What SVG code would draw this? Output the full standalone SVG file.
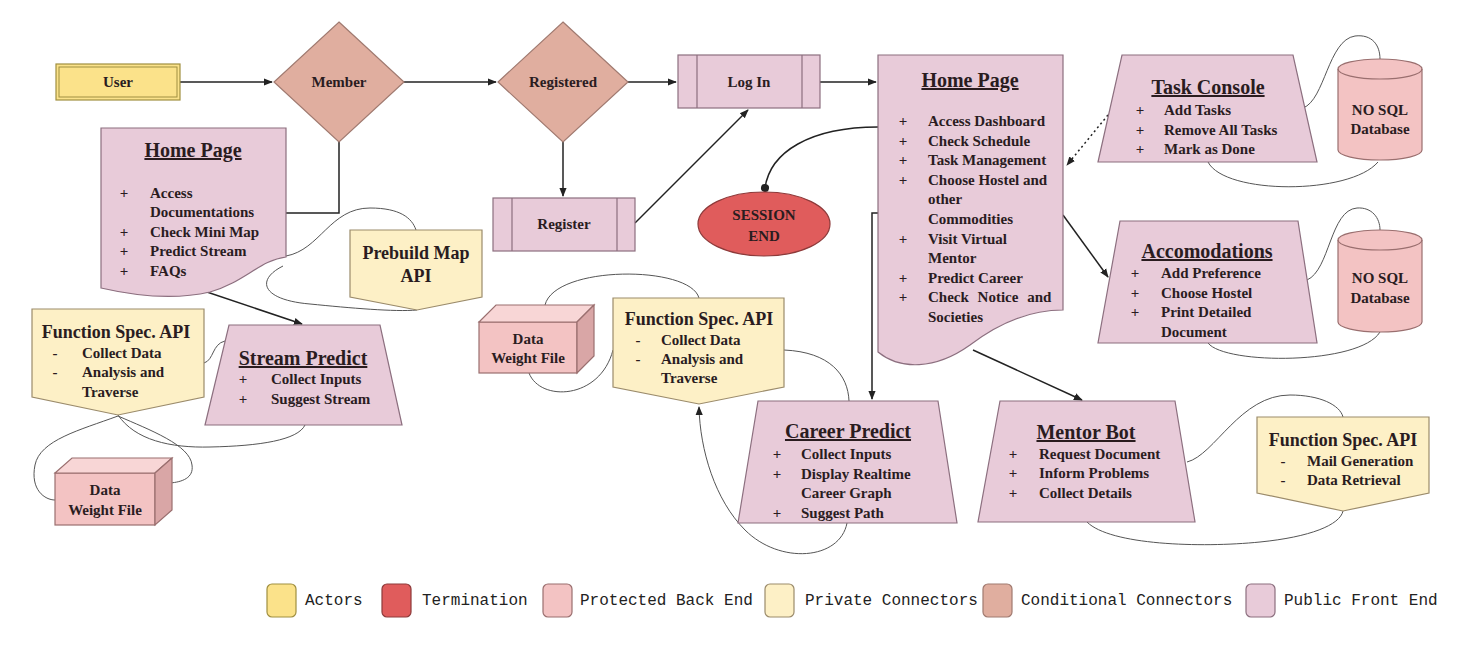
<svg xmlns="http://www.w3.org/2000/svg" width="1476" height="662" viewBox="0 0 1476 662">
<defs>
<style>
.t{font-family:"Liberation Serif","Times New Roman",serif;font-weight:bold;font-size:15px;fill:#2a1c1f}
.c{text-anchor:middle}
.ttl{font-size:20px;text-decoration:underline;text-anchor:middle}
.big{font-size:18px}
.lg{font-family:"Liberation Mono","Courier New",monospace;font-size:16px;fill:#222}
.pub{fill:#e8cbd9;stroke:#8c6f7f;stroke-width:1.2}
.pro{fill:#f3c3c3;stroke:#9a6f6f;stroke-width:1.2}
.prot{fill:#f8d6d6;stroke:#9a6f6f;stroke-width:1.2}
.pros{fill:#d9a6a6;stroke:#9a6f6f;stroke-width:1.2}
.pri{fill:#fdf0c6;stroke:#9b8b6b;stroke-width:1.2}
.cond{fill:#e0ae9f;stroke:#a07a70;stroke-width:1.2}
.act{fill:#fbe28a;stroke:#a08f40;stroke-width:1.2}
.term{fill:#e05c5c;stroke:#8d3a3a;stroke-width:1.2}
.conn{fill:none;stroke:#222;stroke-width:1.5}
.assoc{fill:none;stroke:#555;stroke-width:1}
</style>
<marker id="arr" viewBox="0 0 10 10" refX="9" refY="5" markerWidth="9" markerHeight="9" markerUnits="userSpaceOnUse" orient="auto"><path d="M0,1 L10,5 L0,9 Z" fill="#222"/></marker>
<marker id="dot" viewBox="0 0 10 10" refX="5" refY="5" markerWidth="9" markerHeight="9" markerUnits="userSpaceOnUse" orient="auto"><circle cx="5" cy="5" r="4.5" fill="#222"/></marker>
</defs>
<rect width="1476" height="662" fill="#ffffff"/>

<g id="connectors">
<path class="conn" d="M180,82 H272" marker-end="url(#arr)"/>
<path class="conn" d="M404,82 H496" marker-end="url(#arr)"/>
<path class="conn" d="M628,82 H676" marker-end="url(#arr)"/>
<path class="conn" d="M820,82 H876" marker-end="url(#arr)"/>
<path class="conn" d="M563,142 V196" marker-end="url(#arr)"/>
<path class="conn" d="M635,223 L748,110" marker-end="url(#arr)"/>
<path class="conn" d="M878,127 C810,127 770,152 765,188" marker-end="url(#dot)"/>
<path class="conn" d="M339,142 V213 H286" stroke-width="1" stroke="#555"/>
<path class="conn" d="M195,288 L302,324" stroke-width="2" marker-end="url(#arr)"/>
<path class="conn" d="M878,213 H872 V399" marker-end="url(#arr)"/>
<path class="conn" d="M973,350 L1082,400" marker-end="url(#arr)"/>
<path class="conn" d="M1063,215 L1108,277" marker-end="url(#arr)"/>
<path class="conn" d="M1108,115 L1067,165" stroke-dasharray="2,3" stroke-width="1.3" marker-end="url(#arr)"/>
<path class="assoc" d="M286,256 C320,250 330,208 370,208 C400,208 412,218 416,230"/>
<path class="assoc" d="M283,266 C255,280 262,300 310,304 C350,308 395,312 417,310"/>
<path class="assoc" d="M204,363 C214,360 212,344 225,341"/>
<path class="assoc" d="M118,415 C135,440 170,448 210,447 C260,446 298,440 305,425"/>
<path class="assoc" d="M118,416 C80,430 40,440 35,465 C30,490 45,500 55,500"/>
<path class="assoc" d="M118,416 C150,430 190,445 192,465 C194,478 182,482 170,483"/>
<path class="assoc" d="M545,305 C555,265 690,265 699,298"/>
<path class="assoc" d="M529,373 C540,402 600,400 613,350"/>
<path class="assoc" d="M784,350 C830,352 848,375 849,401"/>
<path class="assoc" d="M847,523 C840,560 780,565 745,530 C715,500 700,450 699,407" marker-end="url(#arr)"/>
<path class="assoc" d="M1187,462 C1215,455 1240,395 1290,395 C1320,395 1340,405 1343,417"/>
<path class="assoc" d="M1087,522 C1110,545 1200,548 1260,542 C1310,537 1340,525 1343,511"/>
<path class="assoc" d="M1303,108 C1325,100 1328,40 1355,36 C1372,34 1380,45 1380,59"/>
<path class="assoc" d="M1208,162 C1225,195 1350,195 1378,162"/>
<path class="assoc" d="M1307,280 C1330,270 1330,210 1357,208 C1372,207 1380,218 1380,230"/>
<path class="assoc" d="M1208,343 C1225,365 1360,365 1380,332"/>
</g>

<g id="user">
<rect class="act" x="56" y="64" width="124" height="36"/>
<rect x="59" y="67" width="118" height="30" fill="none" stroke="#a08f40" stroke-width="1"/>
<text class="t c" x="118" y="87">User</text>
</g>

<g id="member">
<path class="cond" d="M339,22 L404,82 L339,142 L274,82 Z"/>
<text class="t c" x="339" y="87">Member</text>
</g>

<g id="registered">
<path class="cond" d="M563,22 L628,82 L563,142 L498,82 Z"/>
<text class="t c" x="563" y="87">Registered</text>
</g>

<g id="login">
<rect class="pub" x="678" y="55" width="142" height="53"/>
<path d="M697,55 V108 M802,55 V108" stroke="#8c6f7f" stroke-width="1.2"/>
<text class="t c" x="749" y="87">Log In</text>
</g>

<g id="register">
<rect class="pub" x="493" y="198" width="142" height="53"/>
<path d="M512,198 V251 M617,198 V251" stroke="#8c6f7f" stroke-width="1.2"/>
<text class="t c" x="564" y="229">Register</text>
</g>

<g id="session-end">
<ellipse class="term" cx="764" cy="224" rx="66" ry="32"/>
<text class="t c" x="764" y="220">SESSION</text>
<text class="t c" x="764" y="241">END</text>
</g>

<g id="home-page-main">
<path class="pub" d="M878,55 H1063 V310 C1030,310 1000,322 970,345 C935,370 900,370 878,352 Z"/>
<text class="t ttl" x="970" y="87">Home Page</text>
<text class="t c" x="903" y="126">+</text><text class="t" x="928" y="126">Access Dashboard</text>
<text class="t c" x="903" y="145.6">+</text><text class="t" x="928" y="145.6">Check Schedule</text>
<text class="t c" x="903" y="165.2">+</text><text class="t" x="928" y="165.2">Task Management</text>
<text class="t c" x="903" y="184.8">+</text><text class="t" x="928" y="184.8">Choose Hostel and</text>
<text class="t" x="928" y="204.4">other</text>
<text class="t" x="928" y="224">Commodities</text>
<text class="t c" x="903" y="243.6">+</text><text class="t" x="928" y="243.6">Visit Virtual</text>
<text class="t" x="928" y="263.2">Mentor</text>
<text class="t c" x="903" y="282.8">+</text><text class="t" x="928" y="282.8">Predict Career</text>
<text class="t c" x="903" y="302.4">+</text><text class="t" x="928" y="302.4" word-spacing="5">Check Notice and</text>
<text class="t" x="928" y="322">Societies</text>
</g>

<g id="home-page-guest">
<path class="pub" d="M101,128 H286 V257 C260,260 245,282 210,292 C175,300 140,297 101,288 Z"/>
<text class="t ttl" x="193" y="157">Home Page</text>
<text class="t c" x="124" y="198">+</text><text class="t" x="150" y="198">Access</text>
<text class="t" x="150" y="217">Documentations</text>
<text class="t c" x="124" y="237">+</text><text class="t" x="150" y="237">Check Mini Map</text>
<text class="t c" x="124" y="256">+</text><text class="t" x="150" y="256">Predict Stream</text>
<text class="t c" x="124" y="276">+</text><text class="t" x="150" y="276">FAQs</text>
</g>

<g id="prebuild-map-api">
<path class="pri" d="M350,230 H482 V297 L417,310 L350,297 Z"/>
<text class="t c big" x="416" y="259">Prebuild Map</text>
<text class="t c big" x="416" y="282">API</text>
</g>

<g id="stream-predict">
<path class="pub" d="M229,325 H380 L402,425 H205 Z"/>
<text class="t ttl" x="303" y="365">Stream Predict</text>
<text class="t c" x="243" y="384">+</text><text class="t" x="271" y="384">Collect Inputs</text>
<text class="t c" x="243" y="404">+</text><text class="t" x="271" y="404">Suggest Stream</text>
</g>

<g id="function-spec-api-stream">
<path class="pri" d="M32,309 H204 V397 L118,415 L32,397 Z"/>
<text class="t c big" x="116" y="338">Function Spec. API</text>
<text class="t c" x="55" y="358">-</text><text class="t" x="82" y="358">Collect Data</text>
<text class="t c" x="55" y="377">-</text><text class="t" x="82" y="377">Analysis and</text>
<text class="t" x="82" y="397">Traverse</text>
</g>

<g id="data-weight-file-stream">
<rect class="pro" x="55" y="473" width="100" height="52"/>
<path class="prot" d="M55,473 L72,458 L172,458 L155,473 Z"/>
<path class="pros" d="M155,473 L172,458 L172,510 L155,525 Z"/>
<text class="t c" x="105" y="495">Data</text>
<text class="t c" x="105" y="515">Weight File</text>
</g>

<g id="data-weight-file-career">
<rect class="pro" x="479" y="322" width="98" height="51"/>
<path class="prot" d="M479,322 L496,305 L594,305 L577,322 Z"/>
<path class="pros" d="M577,322 L594,305 L594,356 L577,373 Z"/>
<text class="t c" x="528" y="344">Data</text>
<text class="t c" x="528" y="363">Weight File</text>
</g>

<g id="function-spec-api-career">
<path class="pri" d="M613,298 H784 V387 L699,404 L613,387 Z"/>
<text class="t c big" x="699" y="325">Function Spec. API</text>
<text class="t c" x="638" y="345">-</text><text class="t" x="661" y="345">Collect Data</text>
<text class="t c" x="638" y="364">-</text><text class="t" x="661" y="364">Analysis and</text>
<text class="t" x="661" y="383">Traverse</text>
</g>

<g id="career-predict">
<path class="pub" d="M758,401 H938 L957,523 H738 Z"/>
<text class="t ttl" x="848" y="438">Career Predict</text>
<text class="t c" x="777" y="459">+</text><text class="t" x="801" y="459">Collect Inputs</text>
<text class="t c" x="777" y="479">+</text><text class="t" x="801" y="479">Display Realtime</text>
<text class="t" x="801" y="498">Career Graph</text>
<text class="t c" x="777" y="518">+</text><text class="t" x="801" y="518">Suggest Path</text>
</g>

<g id="mentor-bot">
<path class="pub" d="M1000,401 H1175 L1195,522 H978 Z"/>
<text class="t ttl" x="1086" y="439">Mentor Bot</text>
<text class="t c" x="1013" y="459">+</text><text class="t" x="1039" y="459">Request Document</text>
<text class="t c" x="1013" y="478">+</text><text class="t" x="1039" y="478">Inform Problems</text>
<text class="t c" x="1013" y="498">+</text><text class="t" x="1039" y="498">Collect Details</text>
</g>

<g id="function-spec-api-mentor">
<path class="pri" d="M1257,417 H1429 V493 L1343,511 L1257,493 Z"/>
<text class="t c big" x="1343" y="446">Function Spec. API</text>
<text class="t c" x="1283" y="466">-</text><text class="t" x="1307" y="466">Mail Generation</text>
<text class="t c" x="1283" y="485">-</text><text class="t" x="1307" y="485">Data Retrieval</text>
</g>

<g id="task-console">
<path class="pub" d="M1122,55 H1293 L1317,162 H1098 Z"/>
<text class="t ttl" x="1208" y="94">Task Console</text>
<text class="t c" x="1140" y="115">+</text><text class="t" x="1164" y="115">Add Tasks</text>
<text class="t c" x="1140" y="134.5">+</text><text class="t" x="1164" y="134.5">Remove All Tasks</text>
<text class="t c" x="1140" y="154">+</text><text class="t" x="1164" y="154">Mark as Done</text>
</g>

<g id="nosql-database-tasks">
<path class="pro" d="M1338,69 A42,10 0 0 1 1422,69 V150 A42,10 0 0 1 1338,150 Z"/>
<path d="M1338,69 A42,10 0 0 0 1422,69" fill="none" stroke="#9a6f6f" stroke-width="1.2"/>
<text class="t c" x="1380" y="115">NO SQL</text>
<text class="t c" x="1380" y="134">Database</text>
</g>

<g id="accomodations">
<path class="pub" d="M1120,221 H1298 L1317,343 H1098 Z"/>
<text class="t ttl" x="1207" y="258">Accomodations</text>
<text class="t c" x="1135" y="278">+</text><text class="t" x="1161" y="278">Add Preference</text>
<text class="t c" x="1135" y="298">+</text><text class="t" x="1161" y="298">Choose Hostel</text>
<text class="t c" x="1135" y="317">+</text><text class="t" x="1161" y="317">Print Detailed</text>
<text class="t" x="1161" y="337">Document</text>
</g>

<g id="nosql-database-accomodations">
<path class="pro" d="M1338,240 A42,10 0 0 1 1422,240 V322 A42,10 0 0 1 1338,322 Z"/>
<path d="M1338,240 A42,10 0 0 0 1422,240" fill="none" stroke="#9a6f6f" stroke-width="1.2"/>
<text class="t c" x="1380" y="283">NO SQL</text>
<text class="t c" x="1380" y="303">Database</text>
</g>

<g id="legend">
<rect class="act" x="267" y="584" width="29" height="33" rx="5"/>
<text class="lg" x="305" y="605">Actors</text>
<rect class="term" x="382" y="584" width="29" height="33" rx="5"/>
<text class="lg" x="422" y="605">Termination</text>
<rect class="pro" x="543" y="584" width="29" height="33" rx="5"/>
<text class="lg" x="580" y="605">Protected Back End</text>
<rect class="pri" x="765" y="584" width="29" height="33" rx="5"/>
<text class="lg" x="805" y="605">Private Connectors</text>
<rect class="cond" x="983" y="584" width="29" height="33" rx="5"/>
<text class="lg" x="1021" y="605">Conditional Connectors</text>
<rect class="pub" x="1246" y="584" width="29" height="33" rx="5"/>
<text class="lg" x="1284" y="605">Public Front End</text>
</g>
</svg>
